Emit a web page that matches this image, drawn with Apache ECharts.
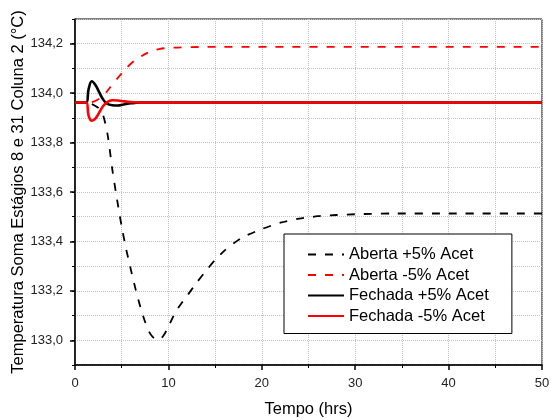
<!DOCTYPE html>
<html>
<head>
<meta charset="utf-8">
<script src="https://cdn.jsdelivr.net/npm/echarts@6/dist/echarts.min.js"></script>
<style>
  html, body { margin: 0; padding: 0; background: #fff; }
  #chart { width: 551px; height: 419px; }
</style>
</head>
<body>
<div id="chart"></div>
<script>
// Temperature response (°C) vs. time (hrs) for open / closed loop, ±5% acetone
const seriesNames = ['Aberta +5% Acet', 'Aberta -5% Acet', 'Fechada +5% Acet', 'Fechada -5% Acet'];
const yTitle = 'Temperatura Soma Estágios 8 e 31 Coluna 2 (°C)';
const xTitle = 'Tempo (hrs)';

const tAbertaMais = [0, 1.0, 1.5, 2.0, 2.5, 3.0, 3.5, 4.0, 4.5, 5.0, 5.5, 6.0, 6.5, 7.0, 7.5, 8.0, 8.5, 9.0, 9.5, 10, 10.5, 11, 11.5, 12, 13, 14, 15, 16, 17, 18, 20, 22, 24, 26, 28, 30, 34, 40, 50];
const abertaMais  = [133.962, 133.962, 133.960, 133.952, 133.94, 133.912, 133.83, 133.69, 133.57, 133.46, 133.365, 133.283, 133.205, 133.135, 133.075, 133.03, 133.007, 133.003, 133.02, 133.055, 133.095, 133.128, 133.155, 133.18, 133.232, 133.28, 133.325, 133.363, 133.393, 133.418, 133.45, 133.476, 133.492, 133.502, 133.507, 133.51, 133.513, 133.513, 133.513];

const tAbertaMenos = [0, 1.2, 2, 3, 4, 5, 6, 7, 8, 9, 10, 12, 15, 50];
const abertaMenos  = [133.962, 133.962, 133.966, 133.99, 134.035, 134.08, 134.12, 134.147, 134.167, 134.178, 134.183, 134.186, 134.187, 134.187];

const tFechada     = [0, 1.2, 1.45, 1.8, 2.2, 2.6, 3.0, 3.4, 4.0, 4.6, 5.2, 6.0, 7.0, 50];
const fechadaMais  = [133.962, 133.962, 134.015, 134.048, 134.032, 134.003, 133.975, 133.958, 133.951, 133.950, 133.954, 133.959, 133.962, 133.962];
const fechadaMenos = [133.962, 133.962, 133.91, 133.888, 133.898, 133.922, 133.947, 133.963, 133.971, 133.970, 133.967, 133.964, 133.962, 133.962];

const yLabelValues = [133.0, 133.2, 133.4, 133.6, 133.8, 134.0, 134.2];

const zip = (t, v) => t.map((x, i) => [x, v[i]]);
const FONT = 'Liberation Sans, Arial, sans-serif';
const gridDot = () => ({ show: true, lineStyle: { color: '#c2c2c2', type: 'dotted', width: 1 } });

const chart = echarts.init(document.getElementById('chart'), null, { renderer: 'canvas' });
chart.setOption({
  animation: false,
  backgroundColor: '#fff',
  textStyle: { fontFamily: FONT },
  grid: {
    left: 75, right: 9, top: 19, bottom: 54,
    outerBoundsMode: 'none', containLabel: false,
    show: true, borderColor: '#000', borderWidth: 1
  },
  // vertical axis title, centred beside the plot area
  graphic: [{
    type: 'text',
    x: 18, y: 192,
    rotation: Math.PI / 2,
    silent: true,
    style: {
      text: yTitle,
      font: '16.5px ' + FONT,
      fill: '#000',
      align: 'center',
      verticalAlign: 'middle'
    }
  }],
  legend: {
    data: seriesNames,
    orient: 'vertical',
    left: 284, top: 234,
    padding: [12, 23, 9, 23],
    itemWidth: 36, itemHeight: 14, itemGap: 3.5,
    backgroundColor: '#fff',
    borderColor: '#000', borderWidth: 1, borderRadius: 0,
    itemStyle: { opacity: 0 },
    textStyle: { fontSize: 16.5, color: '#000', fontFamily: FONT }
  },
  xAxis: {
    type: 'value', min: 0, max: 50, interval: 10,
    name: xTitle, nameLocation: 'middle', nameGap: 36,
    nameTextStyle: { fontSize: 16.5, color: '#000', fontFamily: FONT },
    axisLine: { show: true, onZero: false, lineStyle: { color: '#000', width: 1.5 } },
    axisTick: { show: true, inside: false, length: 5, lineStyle: { color: '#000', width: 1.5 } },
    minorTick: { show: true, splitNumber: 2, length: 3, lineStyle: { color: '#000', width: 1 } },
    axisLabel: { fontSize: 13, color: '#222', margin: 12, fontFamily: FONT },
    splitLine: gridDot(),
    minorSplitLine: gridDot()
  },
  yAxis: [
    {
      type: 'value', min: 132.9, max: 134.3, interval: 0.1,
      axisLine: { show: true, onZero: false, lineStyle: { color: '#000', width: 1.5 } },
      axisTick: { show: true, inside: false, length: 5, customValues: yLabelValues, lineStyle: { color: '#000', width: 1.5 } },
      axisLabel: {
        fontSize: 13, color: '#222', margin: 12, fontFamily: FONT,
        customValues: yLabelValues,
        formatter: v => v.toFixed(1).replace('.', ',')
      },
      splitLine: { show: false }
    },
    {
      // finer 0.1 ticks and dotted grid
      type: 'value', min: 132.9, max: 134.3, interval: 0.1, position: 'left',
      axisLine: { show: false },
      axisTick: { show: true, inside: false, length: 3, lineStyle: { color: '#000', width: 1 } },
      axisLabel: { show: false },
      splitLine: gridDot()
    }
  ],
  series: [
    {
      name: seriesNames[0], type: 'line', data: zip(tAbertaMais, abertaMais),
      smooth: 0.25, symbol: 'none', silent: true,
      lineStyle: { color: '#000', width: 1.8, type: [8, 9] }, itemStyle: { color: '#000' }
    },
    {
      name: seriesNames[1], type: 'line', data: zip(tAbertaMenos, abertaMenos),
      smooth: 0.4, symbol: 'none', silent: true,
      lineStyle: { color: '#ff0000', width: 1.8, type: [8, 9] }, itemStyle: { color: '#ff0000' }
    },
    {
      name: seriesNames[2], type: 'line', data: zip(tFechada, fechadaMais),
      smooth: 0.4, symbol: 'none', silent: true,
      lineStyle: { color: '#000', width: 2.6, type: 'solid' }, itemStyle: { color: '#000' }
    },
    {
      name: seriesNames[3], type: 'line', data: zip(tFechada, fechadaMenos),
      smooth: 0.4, symbol: 'none', silent: true,
      lineStyle: { color: '#ff0000', width: 2.6, type: 'solid' }, itemStyle: { color: '#ff0000' }
    }
  ]
});
</script>
</body>
</html>
